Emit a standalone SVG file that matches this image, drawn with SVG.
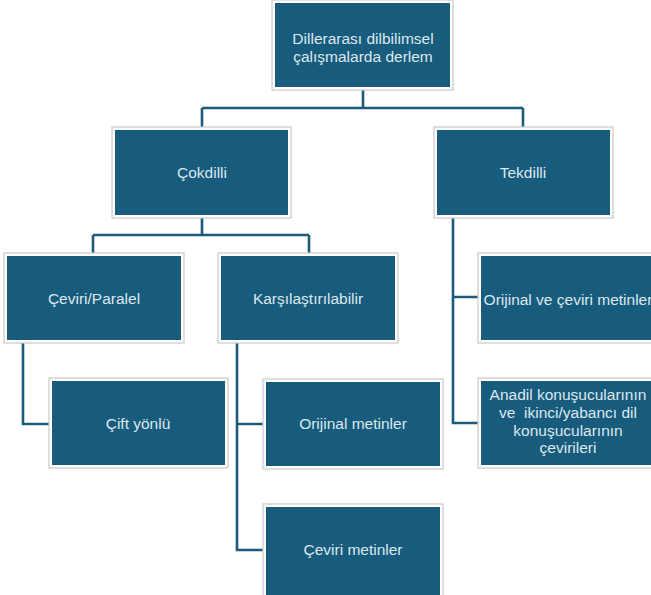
<svg xmlns="http://www.w3.org/2000/svg" width="651" height="595" viewBox="0 0 651 595">
<style>
.o{fill:#ffffff;stroke:#c9c9c9;stroke-width:1.2}
.f{fill:#175b7d}
.t{font-family:"Liberation Sans","Open Sans",sans-serif;font-size:15.5px;fill:#dde8ee;text-anchor:middle;white-space:pre}
.c{fill:none;stroke:#1d5b7a;stroke-width:2.6}
</style>
<rect width="651" height="595" fill="#ffffff"/>
<g id="connectors">
<path class="c" d="M363,90 V108 M202,108 H523 M202,108 V127 M523,108 V127"/>
<path class="c" d="M202,218 V235 M93,235 H309 M93,235 V253 M309,235 V253"/>
<path class="c" d="M23,343 V424 H49"/>
<path class="c" d="M237,343 V550 H263 M237,424 H263"/>
<path class="c" d="M453,218 V423 H478 M453,297 H478"/>
</g>
<g id="root">
<rect class="o" x="272" y="0" width="181" height="90"/><rect class="f" x="275" y="3" width="175" height="84"/>
<text class="t" x="363" y="44">Dillerarası dilbilimsel</text>
<text class="t" x="363" y="62">çalışmalarda derlem</text>
</g>
<g id="cokdilli">
<rect class="o" x="112" y="127" width="179" height="91"/><rect class="f" x="115" y="130" width="173" height="85"/>
<text class="t" x="202" y="178">Çokdilli</text>
</g>
<g id="tekdilli">
<rect class="o" x="434" y="127" width="179" height="91"/><rect class="f" x="437" y="130" width="173" height="85"/>
<text class="t" x="523" y="178">Tekdilli</text>
</g>
<g id="ceviri-paralel">
<rect class="o" x="4" y="253" width="180" height="90"/><rect class="f" x="7" y="256" width="174" height="84"/>
<text class="t" x="94" y="304">Çeviri/Paralel</text>
</g>
<g id="karsilastirilabilir">
<rect class="o" x="218" y="253" width="180" height="90"/><rect class="f" x="221" y="256" width="174" height="84"/>
<text class="t" x="308" y="304">Karşılaştırılabilir</text>
</g>
<g id="cift-yonlu">
<rect class="o" x="49" y="378" width="179" height="90"/><rect class="f" x="52" y="381" width="173" height="84"/>
<text class="t" x="138" y="429">Çift yönlü</text>
</g>
<g id="orijinal-metinler">
<rect class="o" x="263" y="379" width="180" height="90"/><rect class="f" x="266" y="382" width="174" height="84"/>
<text class="t" x="353" y="429">Orijinal metinler</text>
</g>
<g id="ceviri-metinler">
<rect class="o" x="263" y="504" width="180" height="92"/><rect class="f" x="266" y="507" width="174" height="88"/>
<text class="t" x="353" y="555">Çeviri metinler</text>
</g>
<g id="orijinal-ve-ceviri">
<rect class="o" x="478" y="253" width="180" height="90"/><rect class="f" x="481" y="256" width="174" height="84"/>
<text class="t" x="568" y="305">Orijinal ve çeviri metinler</text>
</g>
<g id="anadil">
<rect class="o" x="478" y="378" width="180" height="90"/><rect class="f" x="481" y="381" width="174" height="84"/>
<text class="t" x="568" y="400">Anadil konuşucularının</text>
<text class="t" x="568" y="418">ve  ikinci/yabancı dil</text>
<text class="t" x="568" y="436">konuşucularının</text>
<text class="t" x="568" y="453">çevirileri</text>
</g>
</svg>
